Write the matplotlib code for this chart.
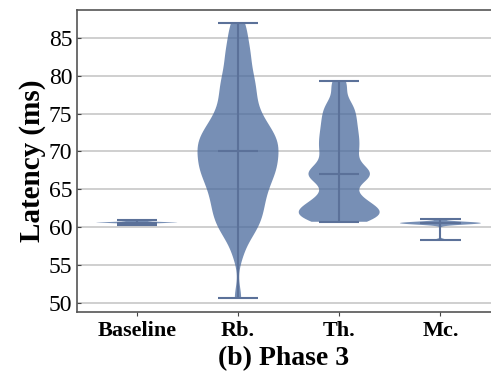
import matplotlib
matplotlib.use("Agg")
import matplotlib.pyplot as plt

plt.rcParams['font.family'] = ['Liberation Serif', 'DejaVu Serif']

categories = ["Baseline", "Rb.", "Th.", "Mc."]

baseline = [60.3, 60.4, 60.5, 60.55, 60.6, 60.6, 60.65, 60.7, 60.8, 60.9]
rb = [50.6, 56.3, 58.26, 58.98, 59.70, 60.29, 60.77, 61.25, 61.73, 62.21,
      62.68, 63.13, 63.57, 64.01, 64.46, 64.90, 65.28, 65.65, 66.02, 66.38,
      66.75, 67.09, 67.38, 67.67, 67.96, 68.25, 68.54, 68.83, 69.12, 69.41,
      70.0,
      70.2, 70.29, 70.60, 70.90, 71.21, 71.51, 71.82, 72.13, 72.43, 72.74,
      73.06, 73.50, 73.94, 74.38, 74.82, 75.38, 76.03, 76.68, 77.32, 77.97,
      78.62, 79.26, 79.91, 80.79, 81.71, 82.63, 83.54, 84.46, 86.0, 87.0]
th = [60.7, 60.82, 61.07, 61.32, 61.45, 61.57, 61.82, 62.07, 62.2, 62.32,
      62.63, 62.94, 63.25, 63.59, 64.07, 64.56, 65.4, 66.2, 66.5, 66.75,
      66.9, 67.0, 67.2, 67.5, 67.9, 68.5, 69.1, 69.7, 70.13, 70.62, 71.11,
      71.6, 72.09, 72.59, 73.14, 73.69, 74.25, 74.81, 75.41, 76.04, 76.67,
      78.37, 79.3]
mc = [58.3, 60.3, 60.4, 60.45, 60.5, 60.5, 60.55, 60.6, 60.65, 60.7, 61.1]

data = [baseline, rb, th, mc]

fig = plt.figure(figsize=(4.91, 3.78), dpi=100)
ax = fig.add_axes([0.157, 0.175, 0.843, 0.799])

ax.yaxis.grid(True, color='#cccccc', linewidth=1.3, zorder=0)
ax.set_axisbelow(True)

parts = ax.violinplot(data, positions=range(len(categories)), widths=0.8,
                      showmedians=True, bw_method=0.2)
for body in parts['bodies']:
    body.set_facecolor('#4a6a9c')
    body.set_edgecolor('none')
    body.set_alpha(0.75)
for key in ['cbars', 'cmins', 'cmaxes', 'cmedians']:
    parts[key].set_color('#5b7199')
    parts[key].set_linewidth(1.5)

ax.set_xticks(range(len(categories)))
ax.set_xticklabels(categories, fontsize=16, fontweight='bold')
ax.set_xlim(-0.59, 3.5)
ax.set_ylim(48.8, 88.7)
ax.set_yticks([50, 55, 60, 65, 70, 75, 80, 85])
ax.tick_params(axis='y', labelsize=17, direction='in', length=3, color='#444444')
ax.tick_params(axis='x', direction='out', length=3, color='#444444')

ax.set_ylabel("Latency (ms)", fontsize=21, fontweight='bold', labelpad=2)
ax.set_xlabel("(b) Phase 3", fontsize=20, fontweight='bold')

for side in ['left', 'bottom', 'top']:
    ax.spines[side].set_color('#555555')
    ax.spines[side].set_linewidth(1.2)
ax.spines['right'].set_visible(False)

fig.savefig("out.png", dpi=100)
